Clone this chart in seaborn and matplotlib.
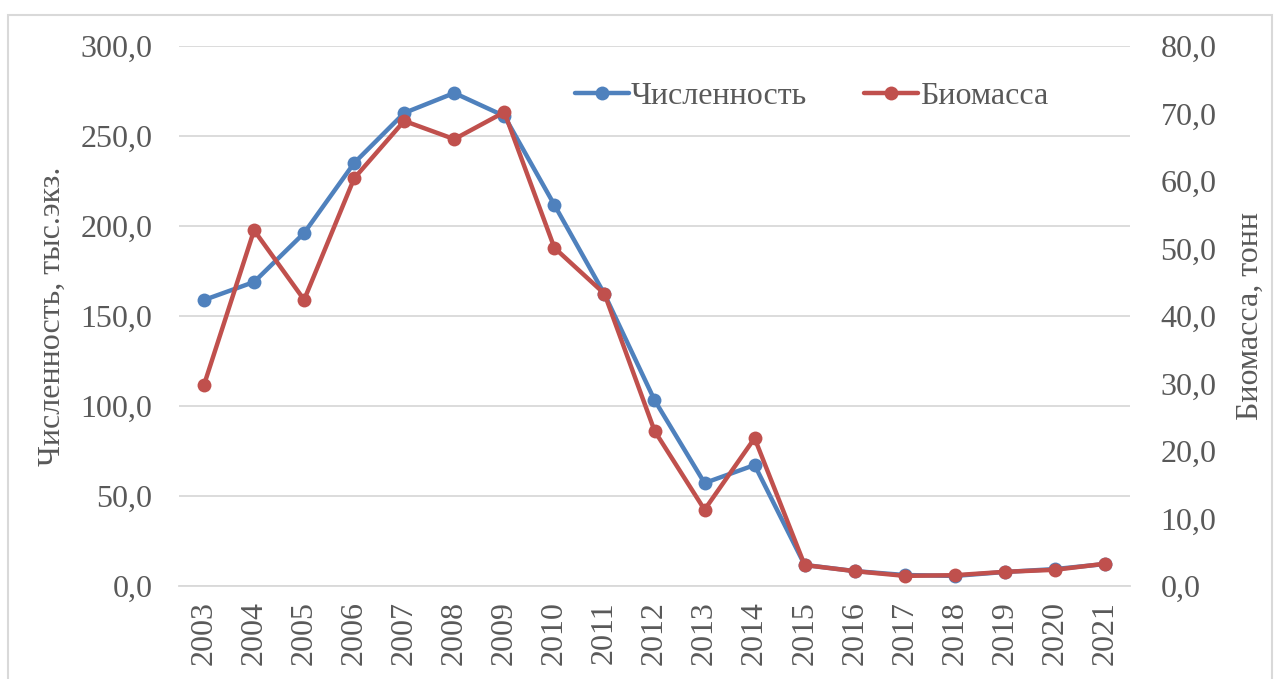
import numpy as np
import pandas as pd
import matplotlib.pyplot as plt
import seaborn as sns
from matplotlib.patches import Rectangle

# values
years = [str(y) for y in range(2003, 2022)]
abundance = [158.9, 168.9, 196.1, 235.0, 262.8, 273.9, 261.1, 211.7, 162.2, 103.3,
             57.2, 67.2, 11.7, 8.3, 6.1, 5.6, 7.8, 9.4, 12.2]
biomass = [29.8, 52.7, 42.4, 60.4, 68.9, 66.2, 70.2, 50.1, 43.3, 23.0,
           11.3, 21.9, 3.1, 2.2, 1.5, 1.6, 2.1, 2.4, 3.3]

df = pd.DataFrame({"year": years, "abundance": abundance, "biomass": biomass})
df["x"] = np.arange(len(years))

sns.set_style("white")
plt.rcParams["font.family"] = ["Liberation Serif", "DejaVu Serif"]
text_color = "#595959"
grid_color = "#d9d9d9"
blue = "#4f81bd"
red = "#c0504d"
fs = 23

fig = plt.figure(figsize=(12.8, 6.79), dpi=100)
ax = fig.add_axes([179 / 1280, 1 - 586 / 679, (1130 - 179) / 1280, (586 - 46) / 679])
ax2 = ax.twinx()

sns.lineplot(data=df, x="x", y="abundance", ax=ax, color=blue, lw=3.2,
             marker="o", markersize=10, markeredgewidth=0, label="Численность",
             legend=False)
sns.lineplot(data=df, x="x", y="biomass", ax=ax2, color=red, lw=3.2,
             marker="o", markersize=10, markeredgewidth=0, label="Биомасса",
             legend=False)

ax.set_xlim(-0.5, len(years) - 0.5)
ax.set_ylim(0, 300)
ax2.set_ylim(0, 80)
ax.set_yticks(np.arange(0, 301, 50))
ax2.set_yticks(np.arange(0, 81, 10))
ax.set_yticklabels([f"{v:.1f}".replace(".", ",") for v in np.arange(0, 301, 50)])
ax2.set_yticklabels([f"{v:.1f}".replace(".", ",") for v in np.arange(0, 81, 10)])
ax.set_xticks(df["x"])
ax.set_xticklabels(years, rotation=90)

ax.grid(axis="y", color=grid_color, lw=1.3)
ax.set_axisbelow(True)
for a in (ax, ax2):
    for s in ("top", "left", "right", "bottom"):
        a.spines[s].set_visible(False)
ax.spines["bottom"].set_visible(True)
ax.spines["bottom"].set_color(grid_color)
ax.spines["bottom"].set_linewidth(1.3)

ax.tick_params(axis="x", colors=grid_color, length=7, width=1.3, labelsize=fs,
               labelcolor=text_color, pad=4)
ax.tick_params(axis="y", length=0, labelsize=fs, labelcolor=text_color, pad=19)
ax2.tick_params(axis="y", length=0, labelsize=fs, labelcolor=text_color, pad=22)

ax.set_xlabel("")
ax.set_ylabel("Численность, тыс.экз.", fontsize=fs, color=text_color, labelpad=10)
ax2.set_ylabel("Биомасса, тонн", fontsize=fs, color=text_color, labelpad=14)

h1, l1 = ax.get_legend_handles_labels()
h2, l2 = ax2.get_legend_handles_labels()
ax2.legend(h1 + h2, l1 + l2, loc="center", bbox_to_anchor=(0.665, 0.907),
           ncol=2, frameon=False, fontsize=fs, labelcolor=text_color,
           handlelength=1.7, handletextpad=0.05, columnspacing=1.8)

fig.patches.append(Rectangle((8 / 1280, -0.05), (1272 - 8) / 1280, 1.05 - 15 / 679,
                             transform=fig.transFigure, fill=False,
                             edgecolor=grid_color, lw=1.5))

fig.savefig("out.png", dpi=100)
